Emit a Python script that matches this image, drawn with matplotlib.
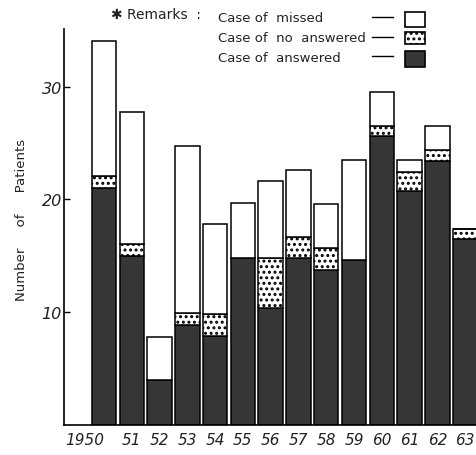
import matplotlib.pyplot as plt
from matplotlib.patches import Rectangle
from matplotlib.lines import Line2D

# data (number of patients per year)
years = ['1950', '51', '52', '53', '54', '55', '56', '57', '58', '59', '60', '61', '62', '63']
answered = [21.0, 15.0, 4.0, 8.9, 7.9, 14.8, 10.4, 14.8, 13.7, 14.6, 25.6, 20.7, 23.4, 16.5]
no_answered = [1.1, 1.0, 0.0, 1.0, 1.9, 0.0, 4.4, 1.9, 2.0, 0.0, 0.9, 1.7, 1.0, 0.9]
missed = [11.9, 11.7, 3.8, 14.8, 8.0, 4.9, 6.8, 5.9, 3.9, 8.9, 3.0, 1.1, 2.1, 0.0]

W, H = 477, 456
fig = plt.figure(figsize=(W / 100, H / 100), dpi=100)
ax = fig.add_axes([64 / W, 30 / H, 1 - 64 / W, (426 - 30) / H])

x = list(range(len(years)))
bw = 0.88
dark = '#363636'
plt.rcParams['hatch.linewidth'] = 1.4

ax.bar(x, answered, bw, color=dark, edgecolor='black', linewidth=1.1)
ax.bar(x, no_answered, bw, bottom=answered, color='white', edgecolor='black',
       linewidth=1.1, hatch='...')
top_base = [a + n for a, n in zip(answered, no_answered)]
ax.bar(x, missed, bw, bottom=top_base, color='white', edgecolor='black', linewidth=1.1)

ax.set_xlim(-1.44, 13.43)
ax.set_ylim(0, 35.1)
ax.spines['top'].set_visible(False)
ax.spines['right'].set_visible(False)
for s in ['left', 'bottom']:
    ax.spines[s].set_linewidth(1.2)

ax.set_yticks([10, 20, 30])
ax.set_yticklabels(['10', '20', '30'], fontsize=11.5, style='italic', color='#222222')
ax.tick_params(axis='y', direction='in', length=4, width=1, pad=1.5)
ax.set_xticks(x)
ax.set_xticklabels(years, fontsize=11, style='italic', color='#222222')
ax.tick_params(axis='x', length=0, pad=5)
# the year label of the first bar sits left of its bar in the original
ax.get_xticklabels()[0].set_ha('right')
ax.get_xticklabels()[0].set_x(0.1)

fig.text(22 / W, 1 - 220 / H, 'Number     of     Patients', rotation=90,
         fontsize=9.5, ha='center', va='center', color='#222222')

# hand-drawn legend ("Remarks") in the top area
def fy(py):
    return 1 - py / H

fig.text(111 / W, fy(15), '\u2731 Remarks  :', fontsize=10, va='center', color='#222222')
labels = ['Case of  missed', 'Case of  no  answered', 'Case of  answered']
ys = [19, 39, 58]
boxes = [(13, 28), (33, 45), (52, 68)]
styles = [dict(facecolor='white'), dict(facecolor='white', hatch='...'),
          dict(facecolor=dark)]
for lab, yy, (b0, b1), st in zip(labels, ys, boxes, styles):
    fig.text(218 / W, fy(yy), lab, fontsize=9.5, va='center', color='#222222')
    fig.add_artist(Line2D([372 / W, 393 / W], [fy(yy - 1), fy(yy - 1)],
                          color='black', linewidth=1, transform=fig.transFigure))
    fig.add_artist(Rectangle((405 / W, fy(b1)), 20 / W, (b1 - b0) / H,
                             edgecolor='black', linewidth=1.2,
                             transform=fig.transFigure, **st))

fig.savefig('out.png', dpi=100)
